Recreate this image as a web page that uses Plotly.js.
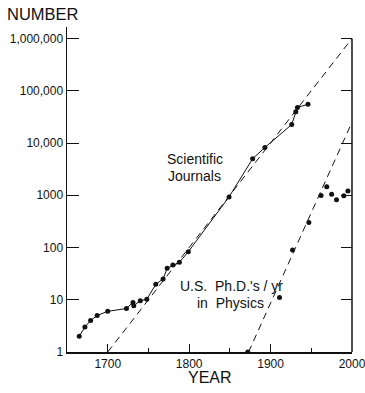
<!DOCTYPE html>
<html>
<head>
<meta charset="utf-8">
<script src="https://cdn.plot.ly/plotly-3.0.1.min.js"></script>
<style>html,body{margin:0;padding:0;background:#fff;}#chart{width:365px;height:393px;}</style>
</head>
<body>
<div id="chart"></div>
<script>
// Scientific journals (number in existence)
const journalYears = [1665, 1672, 1679, 1687, 1700, 1723, 1731, 1732, 1740, 1748, 1759, 1768, 1773, 1780, 1788, 1799, 1849, 1878, 1893, 1926, 1931, 1933, 1946];
const journalCounts = [2, 3, 4, 5, 6, 6.8, 8.9, 7.7, 9.6, 10.2, 19.7, 25, 40, 46, 52, 83, 930, 5000, 8200, 22600, 39500, 48000, 55000];

// U.S. Ph.D.'s per year in physics
const phdYears = [1872, 1911, 1927, 1947, 1962, 1969, 1975, 1981, 1990, 1995];
const phdCounts = [1, 11, 90, 300, 990, 1450, 1040, 820, 980, 1200];

// Exponential trend (dashed) lines
const trendJournalYears = [1700, 2000];
const trendJournalVals = [1, 1000000];
const trendPhdYears = [1873, 2000];
const trendPhdVals = [1, 25000];

// Axis ticks
const yTickVals = [1, 10, 100, 1000, 10000, 100000, 1000000];
const yTickText = ['1', '10', '100', '1000', '10,000', '100,000', '1,000,000'];
const xTickVals = [1700, 1800, 1900, 2000];
const xTickText = ['1700', '1800', '1900', '2000'];

const FONT = 'Liberation Sans, Arial, Helvetica, sans-serif';

const traces = [
  {x: trendJournalYears, y: trendJournalVals, mode: 'lines', line: {color: '#111', width: 1, dash: '7px,5px'}, hoverinfo: 'skip'},
  {x: trendPhdYears, y: trendPhdVals, mode: 'lines', line: {color: '#111', width: 1, dash: '7px,5px'}, hoverinfo: 'skip'},
  {x: journalYears, y: journalCounts, mode: 'lines+markers', line: {color: '#111', width: 1}, marker: {color: '#111', size: 5}},
  {x: phdYears, y: phdCounts, mode: 'markers', marker: {color: '#111', size: 5}},
  {x: [], y: [], yaxis: 'y2', mode: 'markers', showlegend: false}
];

const layout = {
  width: 365, height: 393,
  margin: {l: 67, r: 13, t: 27, b: 41},
  paper_bgcolor: '#fff', plot_bgcolor: '#fff',
  showlegend: false,
  font: {family: FONT, color: '#111', size: 12},
  xaxis: {
    range: [1649.99, 2000.01], showgrid: false, zeroline: false,
    showline: true, linecolor: '#111', linewidth: 1.5,
    tickmode: 'array', tickvals: xTickVals, ticktext: xTickText, ticks: 'inside', ticklen: 8, tickcolor: '#111', tickwidth: 1,
    ticklabeloverflow: 'allow',
    minor: {tickmode: 'array', tickvals: [1750, 1850, 1950], ticks: 'inside', ticklen: 4, tickcolor: '#111'},
    tickfont: {family: FONT, size: 12, color: '#111'}
  },
  yaxis: {
    type: 'log', range: [0, 6.22], showgrid: false, zeroline: false,
    showline: true, linecolor: '#111', linewidth: 1.5,
    tickmode: 'array', tickvals: yTickVals, ticktext: yTickText,
    ticks: 'inside', ticklen: 12, tickcolor: '#111', tickwidth: 1,
    tickfont: {family: FONT, size: 12, color: '#111'}
  },
  yaxis2: {
    type: 'log', range: [0, 6.22], overlaying: 'y', side: 'right',
    showgrid: false, zeroline: false, showline: false,
    tickmode: 'array', tickvals: yTickVals, ticks: 'inside', ticklen: 11, tickcolor: '#111',
    showticklabels: false
  },
  shapes: [
    {type: 'line', xref: 'paper', yref: 'paper', x0: 1, x1: 1, y0: 0, y1: 6 / 6.22, line: {color: '#111', width: 1.5}}
  ],
  annotations: [
    {text: 'NUMBER', xref: 'paper', yref: 'paper', x: -0.218, y: 1.0, xanchor: 'left', yanchor: 'bottom', yshift: 2, showarrow: false, font: {family: FONT, size: 16.5, color: '#111'}},
    {text: 'YEAR', xref: 'paper', yref: 'paper', x: 0.503, y: 0, xanchor: 'center', yanchor: 'middle', yshift: -25, showarrow: false, font: {family: FONT, size: 16, color: '#111'}},
    {text: 'Scientific', x: 1807, y: 3.69, xanchor: 'center', yanchor: 'middle', showarrow: false, font: {family: FONT, size: 14, color: '#111'}},
    {text: 'Journals', x: 1807, y: 3.36, xanchor: 'center', yanchor: 'middle', showarrow: false, font: {family: FONT, size: 14, color: '#111'}},
    {text: "U.S.  Ph.D.'s / yr", x: 1852, y: 1.26, xanchor: 'center', yanchor: 'middle', showarrow: false, font: {family: FONT, size: 14, color: '#111'}},
    {text: 'in  Physics', x: 1851, y: 0.93, xanchor: 'center', yanchor: 'middle', showarrow: false, font: {family: FONT, size: 14, color: '#111'}}
  ]
};

Plotly.newPlot('chart', traces, layout, {displayModeBar: false, staticPlot: true});
</script>
</body>
</html>
